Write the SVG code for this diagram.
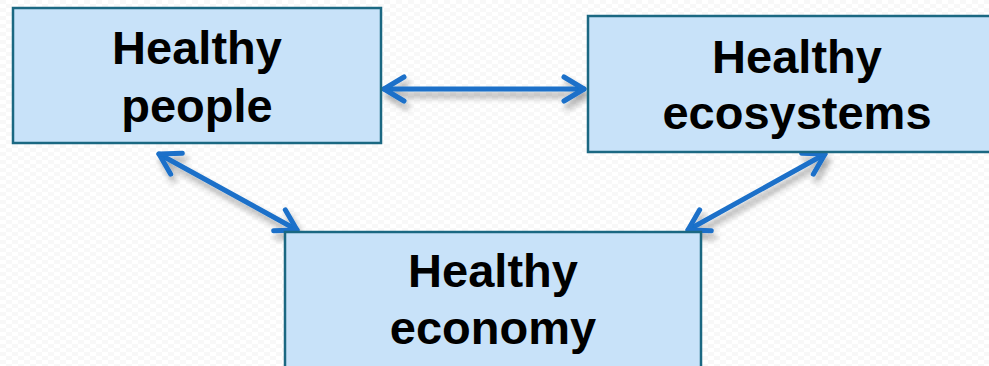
<svg xmlns="http://www.w3.org/2000/svg" width="989" height="366" viewBox="0 0 989 366">
  <style>
    .box { fill: #c8e2f9; stroke: #1b6882; stroke-width: 2.5; }
    .label { font-family: "Liberation Sans", Arial, sans-serif; font-weight: bold; font-size: 47px; fill: #000; text-anchor: middle; }
    .link { stroke: #1a70c9; stroke-width: 5; stroke-linecap: round; fill: none; marker-start: url(#chev); marker-end: url(#chev); }
  </style>
  <defs>
    <pattern id="checks" width="12" height="8" patternUnits="userSpaceOnUse">
      <rect width="12" height="8" fill="#ffffff"/>
      <rect width="6" height="4" fill="#f8f8f8"/>
      <rect x="6" y="4" width="6" height="4" fill="#f8f8f8"/>
    </pattern>
    <marker id="chev" markerUnits="userSpaceOnUse" viewBox="-26 -16 32 32" refX="0" refY="0" markerWidth="32" markerHeight="32" orient="auto-start-reverse" overflow="visible">
      <path d="M-20,-12 L0,0 L-20,12" fill="none" stroke="#1a70c9" stroke-width="5" stroke-linecap="round" stroke-linejoin="round"/>
    </marker>
    <filter id="shade" x="-20%" y="-40%" width="140%" height="180%">
      <feGaussianBlur in="SourceAlpha" stdDeviation="3"/>
      <feOffset dx="3" dy="6" result="off"/>
      <feComponentTransfer><feFuncA type="linear" slope="0.35"/></feComponentTransfer>
      <feMerge><feMergeNode/><feMergeNode in="SourceGraphic"/></feMerge>
    </filter>
  </defs>

  <rect width="989" height="366" fill="url(#checks)"/>

  <g id="connectors" filter="url(#shade)">
    <line class="link" x1="384" y1="89" x2="584" y2="89"/>
    <line class="link" x1="159" y1="154" x2="297" y2="230"/>
    <line class="link" x1="825" y1="154" x2="688" y2="230"/>
  </g>

  <g id="healthy-people">
    <rect class="box" x="13" y="8" width="368" height="135"/>
    <text class="label" x="197" y="64">Healthy</text>
    <text class="label" x="197" y="122">people</text>
  </g>

  <g id="healthy-ecosystems">
    <rect class="box" x="588" y="16" width="420" height="136"/>
    <text class="label" x="797" y="73">Healthy</text>
    <text class="label" x="797" y="129">ecosystems</text>
  </g>

  <g id="healthy-economy">
    <rect class="box" x="285" y="232" width="416" height="150"/>
    <text class="label" x="493" y="287">Healthy</text>
    <text class="label" x="493" y="344">economy</text>
  </g>
</svg>
